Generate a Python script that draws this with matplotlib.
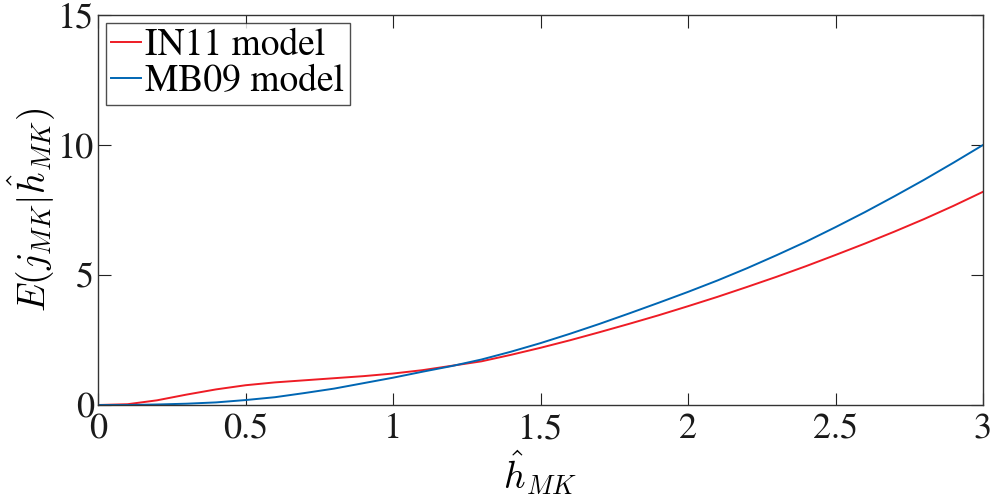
import numpy as np
import matplotlib.pyplot as plt

plt.rcParams['font.family'] = 'STIXGeneral'
plt.rcParams['mathtext.fontset'] = 'cm'

h_mk = [0.0, 0.1, 0.2, 0.3, 0.4, 0.5, 0.6, 0.7, 0.8, 0.9, 1.0,
        1.1, 1.2, 1.3, 1.4, 1.5, 1.6, 1.7, 1.8, 1.9, 2.0,
        2.1, 2.2, 2.3, 2.4, 2.5, 2.6, 2.7, 2.8, 2.9, 3.0]
in11 = [0.0, 0.03, 0.18, 0.40, 0.60, 0.76, 0.87, 0.95, 1.03, 1.11, 1.21,
        1.34, 1.51, 1.68, 1.93, 2.20, 2.49, 2.80, 3.12, 3.45, 3.80,
        4.16, 4.54, 4.93, 5.34, 5.77, 6.21, 6.67, 7.15, 7.66, 8.20]
mb09 = [0.0, 0.0, 0.02, 0.05, 0.10, 0.19, 0.30, 0.46, 0.63, 0.84, 1.05,
        1.28, 1.50, 1.75, 2.05, 2.38, 2.74, 3.12, 3.52, 3.93, 4.35,
        4.79, 5.26, 5.76, 6.28, 6.84, 7.42, 8.03, 8.66, 9.32, 10.0]

fig = plt.figure(figsize=(9.93, 4.97), dpi=100)
ax = fig.add_axes([98 / 993, 92 / 497, 885 / 993, 390 / 497])
ax.plot(h_mk, in11, color='#ee1c25', lw=1.4, label='IN11 model')
ax.plot(h_mk, mb09, color='#0066b3', lw=1.4, label='MB09 model')

ax.set_xlim(0, 3)
ax.set_ylim(0, 15)
ax.set_xticks([0, 0.5, 1, 1.5, 2, 2.5, 3])
ax.set_xticklabels(['0', '0.5', '1', '1.5', '2', '2.5', '3'])
ax.set_yticks([0, 5, 10, 15])
ax.tick_params(direction='in', top=True, right=True, length=9, width=0.8,
               labelsize=26, colors='#222222', labelcolor='#1a1a1a')
ax.tick_params(axis='x', pad=6)
ax.tick_params(axis='y', pad=3)
for s in ax.spines.values():
    s.set_color('#333333')
    s.set_linewidth(1.0)

ax.set_xlabel(r'$\hat{h}_{MK}$', fontsize=27, labelpad=1)
ax.set_ylabel(r'$E(j_{MK}|\hat{h}_{MK})$', fontsize=27, labelpad=0)

leg = ax.legend(loc='upper left', fontsize=27, frameon=True, fancybox=False,
                handlelength=0.8, handletextpad=0.1, borderpad=0.15,
                labelspacing=0.05, borderaxespad=0.2)
leg.get_frame().set_edgecolor('#222222')
leg.get_frame().set_linewidth(1.0)

fig.savefig('out.png', dpi=100)
